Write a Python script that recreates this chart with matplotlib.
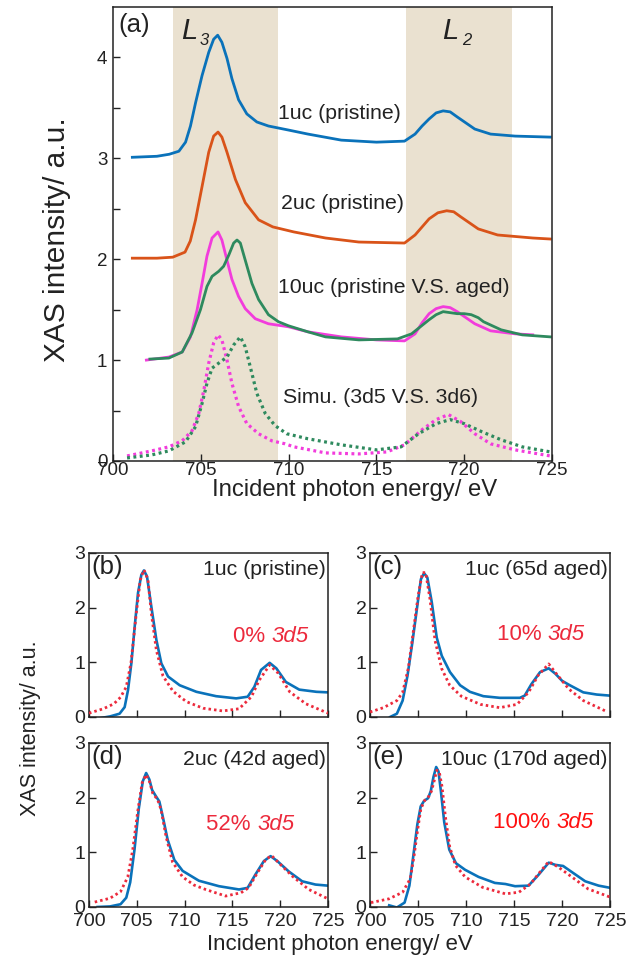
import matplotlib
matplotlib.use("Agg")
import matplotlib.pyplot as plt

plt.rcParams['font.family'] = ['Liberation Sans', 'DejaVu Sans']

# ---------------- Panel (a) data ----------------
a_1uc_x = [701.1, 702.5, 703.2, 703.75, 704.13, 704.41, 704.7, 705.07, 705.45, 705.73, 705.96, 706.2, 706.49,
           706.77, 707.15, 707.62, 708.19, 708.85, 709.99, 711.1, 713.0, 715.0, 716.6, 717.2, 717.6, 718.0,
           718.4, 718.8, 719.2, 719.6, 720.1, 720.6, 721.5, 722.9, 724.9]
a_1uc_y = [3.01, 3.02, 3.04, 3.07, 3.16, 3.32, 3.55, 3.82, 4.05, 4.18, 4.22, 4.15, 3.99,
           3.79, 3.58, 3.44, 3.36, 3.32, 3.28, 3.24, 3.18, 3.16, 3.17, 3.24, 3.32, 3.39,
           3.45, 3.47, 3.46, 3.41, 3.35, 3.29, 3.24, 3.22, 3.21]

a_2uc_x = [701.1, 702.5, 703.4, 704.1, 704.4, 704.7, 705.07, 705.45, 705.73, 705.98, 706.2, 706.49, 706.97,
           707.53, 708.29, 709.1, 710.3, 712.1, 714.0, 716.6, 717.2, 717.6, 718.0, 718.5, 719.0, 719.4,
           719.8, 720.3, 720.8, 721.9, 723.9, 724.9]
a_2uc_y = [2.01, 2.01, 2.02, 2.07, 2.18, 2.39, 2.72, 3.06, 3.22, 3.26, 3.21, 3.06, 2.79,
           2.56, 2.39, 2.32, 2.27, 2.21, 2.17, 2.16, 2.24, 2.32, 2.40, 2.46, 2.48, 2.47,
           2.42, 2.36, 2.30, 2.24, 2.21, 2.20]

a_10p_x = [701.9, 703.18, 703.94, 704.41, 704.79, 705.07, 705.35, 705.64, 705.98, 706.2, 706.49, 706.77,
           707.15, 707.53, 708.1, 708.85, 709.99, 711.1, 713.0, 715.0, 716.6, 717.2, 717.6, 718.0, 718.4,
           718.8, 719.2, 719.6, 720.1, 720.6, 721.5, 722.9, 723.9]
a_10p_y = [1.00, 1.03, 1.08, 1.23, 1.50, 1.76, 2.03, 2.21, 2.27, 2.19, 1.99, 1.80,
           1.63, 1.51, 1.41, 1.36, 1.33, 1.28, 1.23, 1.20, 1.19, 1.26, 1.37, 1.46, 1.51,
           1.53, 1.52, 1.48, 1.42, 1.36, 1.29, 1.26, 1.25]

a_10a_x = [702.1, 703.18, 703.94, 704.5, 704.98, 705.35, 705.64, 706.02, 706.3, 706.59, 706.87, 707.06,
           707.25, 707.53, 707.91, 708.29, 708.85, 709.42, 709.99, 711.1, 712.1, 714.0, 716.2, 717.0,
           717.5, 718.0, 718.4, 718.8, 719.2, 719.6, 720.0, 720.4, 720.8, 721.1, 722.1, 723.3, 724.9]
a_10a_y = [1.01, 1.02, 1.08, 1.27, 1.50, 1.73, 1.83, 1.88, 1.93, 2.04, 2.16, 2.19,
           2.16, 1.99, 1.76, 1.60, 1.45, 1.38, 1.34, 1.28, 1.23, 1.20, 1.21, 1.26,
           1.33, 1.40, 1.45, 1.48, 1.47, 1.46, 1.46, 1.45, 1.42, 1.38, 1.30, 1.25, 1.23]

a_sim6_x = [700.8, 702.2, 703.18, 703.94, 704.5, 704.88, 705.17, 705.45, 705.73, 705.98, 706.2, 706.49,
            706.77, 707.15, 707.62, 708.29, 709.04, 709.8, 710.3, 712.1, 714.0, 715.6, 716.6, 717.6,
            718.4, 719.1, 719.8, 720.6, 721.5, 722.9, 724.9]
a_sim6_y = [0.05, 0.10, 0.14, 0.20, 0.30, 0.47, 0.70, 0.97, 1.17, 1.25, 1.20, 1.00,
            0.77, 0.54, 0.37, 0.27, 0.20, 0.17, 0.14, 0.08, 0.07, 0.09, 0.16, 0.31,
            0.41, 0.46, 0.39, 0.27, 0.17, 0.11, 0.05]

a_sim5_x = [700.8, 702.2, 703.18, 704.13, 704.7, 705.07, 705.35, 705.64, 706.02, 706.49, 706.87, 707.25,
            707.53, 707.82, 708.19, 708.67, 709.23, 709.89, 711.1, 713.0, 715.0, 716.4, 717.4, 718.4,
            719.2, 720.0, 721.0, 722.1, 723.3, 724.9]
a_sim5_y = [0.03, 0.06, 0.10, 0.19, 0.34, 0.57, 0.77, 0.92, 0.97, 1.03, 1.15, 1.23,
            1.13, 0.93, 0.67, 0.47, 0.35, 0.27, 0.22, 0.16, 0.11, 0.14, 0.27, 0.37,
            0.41, 0.37, 0.29, 0.21, 0.14, 0.09]

# ---------------- Panels (b)-(e) data ----------------
b_exp_x = [700.9, 702.2, 703.2, 703.73, 704.08, 704.43, 704.78, 705.13, 705.48, 705.75, 706.07, 706.52,
           707.05, 707.57, 708.27, 709.49, 711.24, 713.3, 715.4, 716.6, 717.3, 718.0, 718.9, 719.6,
           720.6, 722.0, 723.8, 725.0]
b_exp_y = [-0.03, 0.01, 0.06, 0.18, 0.49, 0.98, 1.65, 2.27, 2.60, 2.68, 2.57, 2.02,
           1.41, 0.98, 0.74, 0.58, 0.46, 0.38, 0.34, 0.37, 0.55, 0.86, 0.99, 0.89,
           0.64, 0.50, 0.46, 0.45]
b_sim_x = [700.0, 701.5, 702.6, 703.3, 703.9, 704.4, 704.95, 705.37, 705.75, 706.17, 706.52, 707.05,
           707.74, 708.79, 710.19, 711.93, 714.0, 715.7, 717.0, 717.8, 718.9, 719.8, 721.0, 722.7, 725.0]
b_sim_y = [0.07, 0.15, 0.24, 0.36, 0.55, 1.00, 1.90, 2.51, 2.69, 2.51, 1.90, 1.22,
           0.75, 0.47, 0.28, 0.16, 0.11, 0.15, 0.37, 0.67, 0.95, 0.80, 0.46, 0.24, 0.07]

c_exp_x = [702.1, 702.8, 703.4, 703.9, 704.4, 704.9, 705.3, 705.63, 705.97, 706.43, 706.95, 707.47,
           708.33, 709.38, 710.4, 711.8, 713.5, 715.6, 716.1, 716.8, 717.7, 718.6, 719.3, 720.0,
           720.8, 722.2, 723.6, 725.0]
c_exp_y = [0.00, 0.06, 0.30, 0.75, 1.35, 2.00, 2.52, 2.63, 2.55, 2.10, 1.45, 1.12,
           0.82, 0.58, 0.46, 0.38, 0.35, 0.35, 0.39, 0.60, 0.82, 0.89, 0.79, 0.66,
           0.58, 0.45, 0.41, 0.39]
c_sim_x = [700.0, 701.4, 702.8, 703.4, 704.0, 704.5, 705.0, 705.45, 705.8, 706.25, 706.77, 707.47,
           708.3, 709.5, 711.5, 713.5, 715.3, 716.5, 717.5, 718.6, 719.4, 720.7, 722.2, 724.5]
c_sim_y = [0.09, 0.17, 0.30, 0.45, 0.90, 1.55, 2.20, 2.64, 2.64, 2.15, 1.40, 0.88,
           0.58, 0.38, 0.23, 0.17, 0.23, 0.45, 0.76, 0.97, 0.79, 0.51, 0.30, 0.11]

d_exp_x = [700.9, 702.2, 703.3, 703.9, 704.31, 704.76, 705.21, 705.63, 705.98, 706.32, 706.6, 707.02,
           707.36, 707.71, 708.23, 708.93, 709.8, 711.5, 713.6, 715.7, 716.6, 717.4, 718.3, 719.0,
           719.7, 720.9, 722.3, 723.7, 725.0]
d_exp_y = [0.00, 0.01, 0.05, 0.17, 0.45, 1.05, 1.80, 2.30, 2.45, 2.33, 2.14, 2.02,
           1.93, 1.66, 1.23, 0.86, 0.66, 0.48, 0.38, 0.32, 0.35, 0.59, 0.84, 0.93,
           0.84, 0.65, 0.47, 0.41, 0.39]
d_sim_x = [700.6, 702.2, 703.3, 704.06, 704.58, 705.1, 705.56, 705.98, 706.32, 706.67, 707.19, 707.54,
           708.06, 708.75, 709.79, 711.0, 712.2, 714.3, 715.9, 716.7, 717.6, 718.5, 719.1, 719.9,
           721.3, 723.0, 725.0]
d_sim_y = [0.09, 0.16, 0.28, 0.55, 1.05, 1.75, 2.27, 2.42, 2.30, 2.08, 1.96, 1.78,
           1.29, 0.82, 0.55, 0.40, 0.32, 0.20, 0.26, 0.35, 0.62, 0.87, 0.94, 0.80,
           0.56, 0.32, 0.15]

e_exp_x = [702.0, 702.8, 703.6, 704.1, 704.5, 704.93, 705.28, 705.63, 706.05, 706.33, 706.61, 706.89,
           707.13, 707.38, 707.73, 708.25, 708.95, 709.9, 711.3, 713.0, 714.1, 715.1, 716.5, 717.5,
           718.6, 719.3, 720.1, 721.0, 722.4, 723.8, 725.0]
e_exp_y = [0.03, -0.01, 0.08, 0.39, 0.92, 1.51, 1.84, 1.94, 1.99, 2.12, 2.38, 2.56,
           2.48, 2.12, 1.55, 1.05, 0.80, 0.68, 0.55, 0.44, 0.42, 0.38, 0.39, 0.58,
           0.81, 0.77, 0.75, 0.64, 0.47, 0.39, 0.35]
e_sim_x = [700.1, 702.0, 703.4, 704.2, 704.6, 704.95, 705.3, 705.7, 706.1, 706.4, 706.7, 706.95,
           707.2, 707.5, 707.85, 708.3, 708.9, 709.9, 711.7, 714.1, 715.5, 716.7, 717.7, 718.6,
           719.6, 721.0, 722.7, 725.0]
e_sim_y = [0.08, 0.15, 0.27, 0.52, 0.95, 1.40, 1.80, 1.95, 2.02, 2.12, 2.32, 2.50,
           2.48, 2.20, 1.65, 1.10, 0.76, 0.55, 0.36, 0.24, 0.27, 0.42, 0.64, 0.83,
           0.73, 0.55, 0.33, 0.18]

x_ticks = [700, 705, 710, 715, 720, 725]
small_labels = ["(b)", "(c)", "(d)", "(e)"]
small_titles = ["1uc (pristine)", "1uc (65d aged)", "2uc (42d aged)", "10uc (170d aged)"]
small_pct = ["0% ", "10% ", "52% ", "100% "]
pct_suffix = "3d5"

BLUE = '#0A72BA'
ORANGE = '#D95319'
MAGENTA = '#F23CDC'
GREEN = '#2E8A5E'
SHADE = '#EAE1D0'
SIMRED = '#EC2A3C'
TXT = '#222222'

fig = plt.figure(figsize=(6.44, 9.66), dpi=100)
renderer = fig.canvas.get_renderer()

def style_axes(ax, ls, pad=2.5):
    for s in ax.spines.values():
        s.set_linewidth(1.1)
        s.set_color(TXT)
    ax.tick_params(which='both', direction='in', length=5, width=1.0, labelsize=ls, colors=TXT, pad=pad)

dot = (0, (0.9, 1.1))

# ---- (a) ----
axa = fig.add_axes([0.1755, 0.5228, 0.6817, 0.470])
axa.axvspan(703.4, 709.4, color=SHADE, lw=0, zorder=0)
axa.axvspan(716.7, 722.7, color=SHADE, lw=0, zorder=0)
axa.plot(a_sim6_x, a_sim6_y, color=MAGENTA, lw=2.3, ls=dot)
axa.plot(a_sim5_x, a_sim5_y, color=GREEN, lw=2.3, ls=dot)
axa.plot(a_10p_x, a_10p_y, color=MAGENTA, lw=2.0)
axa.plot(a_10a_x, a_10a_y, color=GREEN, lw=2.0)
axa.plot(a_2uc_x, a_2uc_y, color=ORANGE, lw=2.0)
axa.plot(a_1uc_x, a_1uc_y, color=BLUE, lw=2.0)
axa.set_xlim(700, 725)
axa.set_ylim(0, 4.5)
axa.set_xticks(x_ticks)
axa.set_yticks([0, 1, 2, 3, 4])
axa.set_yticks([0.5, 1.5, 2.5, 3.5], minor=True)
style_axes(axa, 13.5)
axa.tick_params(axis='x', pad=1.0)
axa.tick_params(axis='y', pad=4.0)
axa.text(700.3, 4.44, "(a)", fontsize=18.5, va='top', ha='left', color=TXT)
axa.text(703.85, 4.18, "L", fontsize=21, style='italic', va='baseline', ha='left', color=TXT)
axa.text(704.95, 4.12, "3", fontsize=12, style='italic', va='baseline', ha='left', color=TXT)
axa.text(718.75, 4.18, "L", fontsize=21, style='italic', va='baseline', ha='left', color=TXT)
axa.text(719.85, 4.12, "2", fontsize=12, style='italic', va='baseline', ha='left', color=TXT)
axa.text(709.4, 3.44, "1uc (pristine)", fontsize=15.3, va='center', ha='left', color=TXT)
axa.text(709.55, 2.55, "2uc (pristine)", fontsize=15.3, va='center', ha='left', color=TXT)
axa.text(709.4, 1.72, "10uc (pristine V.S. aged)", fontsize=15.3, va='center', ha='left', color=TXT)
axa.text(709.7, 0.63, "Simu. (3d5 V.S. 3d6)", fontsize=15.3, va='center', ha='left', color=TXT)
fig.text(0.550, 1 - 490 / 966, "Incident photon energy/ eV", fontsize=17.2, va='center', ha='center',
         color=TXT)
fig.text(57 / 644, 1 - 240 / 966, "XAS intensity/ a.u.", rotation=90, fontsize=21.5, va='center',
         ha='center', color=TXT)

# ---- (b)-(e) ----
pos = [[0.1382, 0.2578, 0.371, 0.1698],
       [0.5745, 0.2578, 0.373, 0.1698],
       [0.1382, 0.0611, 0.371, 0.1698],
       [0.5745, 0.0611, 0.373, 0.1698]]
exps = [(b_exp_x, b_exp_y), (c_exp_x, c_exp_y), (d_exp_x, d_exp_y), (e_exp_x, e_exp_y)]
sims = [(b_sim_x, b_sim_y), (c_sim_x, c_sim_y), (d_sim_x, d_sim_y), (e_sim_x, e_sim_y)]
pct_pos = [(0.76, 0.49), (0.71, 0.50), (0.675, 0.50), (0.722, 0.515)]
pct_colors = [SIMRED, SIMRED, SIMRED, '#FF1010']
for i in range(4):
    ax = fig.add_axes(pos[i])
    ax.plot(exps[i][0], exps[i][1], color=BLUE, lw=1.9, zorder=2)
    ax.plot(sims[i][0], sims[i][1], color=SIMRED, lw=2.0, ls=dot, zorder=3)
    ax.set_xlim(700, 725)
    ax.set_ylim(0, 3)
    ax.set_xticks(x_ticks)
    ax.set_yticks([0, 1, 2, 3])
    style_axes(ax, 14)
    ax.tick_params(axis='x', pad=4.5)
    if i < 2:
        ax.set_xticklabels([])
    ax.text(0.012, 0.985, small_labels[i], transform=ax.transAxes, fontsize=18.5, va='top', ha='left',
            color=TXT)
    ax.text(0.99, 0.955, small_titles[i], transform=ax.transAxes, fontsize=15.3, va='top', ha='right',
            color=TXT)
    # "NN% " upright + "3d5" italic, centred as one group
    t1 = ax.text(0, pct_pos[i][1], small_pct[i], transform=ax.transAxes, fontsize=16,
                 va='center', ha='left', color=pct_colors[i])
    t2 = ax.text(0, pct_pos[i][1], pct_suffix, transform=ax.transAxes, fontsize=16, style='italic',
                 va='center', ha='left', color=pct_colors[i])
    axw = ax.get_window_extent(renderer).width
    w1 = t1.get_window_extent(renderer).width / axw
    w2 = t2.get_window_extent(renderer).width / axw
    x0 = pct_pos[i][0] - (w1 + w2) / 2
    t1.set_x(x0)
    t2.set_x(x0 + w1)

fig.text(0.047, 0.246, "XAS intensity/ a.u.", rotation=90, fontsize=15.5, va='center', ha='center',
         color=TXT)
fig.text(0.528, 0.022, "Incident photon energy/ eV", fontsize=16, va='center', ha='center', color=TXT)

fig.savefig("out.png", dpi=100)
